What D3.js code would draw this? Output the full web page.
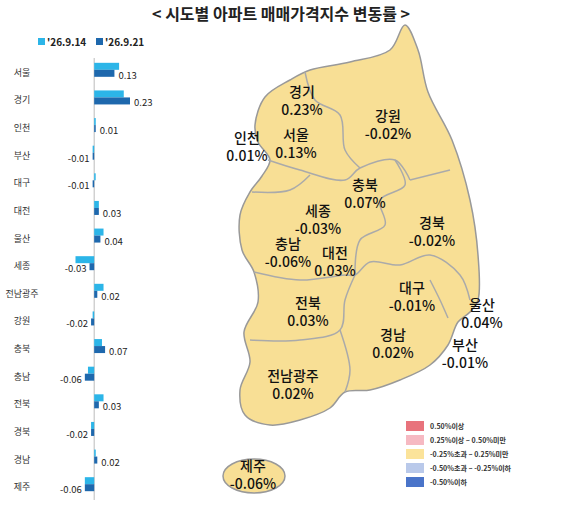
<!DOCTYPE html><html><head><meta charset="utf-8"><script src="https://d3js.org/d3.v7.min.js"></script>
<style>body{margin:0;background:#fff}text{font-family:"Noto Sans CJK KR","Noto Sans",sans-serif}</style></head><body><svg width="562" height="506"></svg>
<script>
const regions=["서울","경기","인천","부산","대구","대전","울산","세종","전남광주","강원","충북","충남","전북","경북","경남","제주"];
const prevWeek=[0.16,0.19,0.01,-0.01,0.0,0.03,0.06,-0.12,0.06,-0.01,0.05,-0.04,0.06,-0.02,0.01,-0.06];
const thisWeek=[0.13,0.23,0.01,-0.01,-0.01,0.03,0.04,-0.03,0.02,-0.02,0.07,-0.06,0.03,-0.02,0.02,-0.06];
const seriesNames=["'26.9.14","'26.9.21"];
const legendLabels=["0.50%이상","0.25%이상 ~ 0.50%미만","-0.25%초과 ~ 0.25%미만","-0.50%초과 ~ -0.25%이하","-0.50%이하"];
const legendColors=["#e8737c","#f6b9c2","#fbe39a","#b9c9ea","#4a74c9"];
const mapLabels=[["경기",302,97],["강원",388,121],["인천",247,143],["서울",296,140],["충북",365,190],["세종",318,216],["경북",432,228],["충남",288,249],["대전",335,258],["대구",412,293],["울산",482,310],["전북",308,308],["경남",393,340],["부산",465,350],["전남광주",293,381],["제주",253,471]];
const outline=[[255,125],[265,97],[290,80],[310,70],[350,62],[390,50],[405,25],[418,50],[428,92],[452,140],[470,200],[478,255],[478,300],[470,312],[458,322],[448,345],[430,365],[400,380],[370,390],[345,392],[330,408],[300,420],[270,425],[245,415],[240,390],[250,362],[244,332],[258,302],[254,272],[242,250],[240,215],[250,192],[262,176],[270,160],[258,142]];
const inner=[[[268,160],[300,170],[345,180],[360,168],[395,160],[410,180]],[[305,72],[315,100],[340,115],[345,150],[360,168]],[[252,192],[290,190],[310,175]],[[395,160],[405,185],[380,200],[385,225],[360,240],[355,275]],[[410,180],[450,170]],[[254,272],[300,280],[345,275],[355,275],[370,262],[400,265],[430,255],[460,275],[470,300]],[[250,340],[300,340],[340,330],[345,300],[355,275]],[[340,330],[350,370],[345,392]],[[430,280],[440,300],[448,318]]];
const svg=d3.select("svg");
svg.append("text").attr("x",281).attr("y",20).attr("text-anchor","middle").attr("font-size",16).attr("font-weight","bold").attr("fill","#222").text("< 시도별 아파트 매매가격지수 변동률 >");
const cols=["#2cb5e8","#1e68ad"];
seriesNames.forEach((s,i)=>{const x=[38,96][i];svg.append("rect").attr("x",x).attr("y",38).attr("width",7).attr("height",7).attr("fill",cols[i]);
svg.append("text").attr("x",x+9).attr("y",45.5).attr("font-size",10).attr("font-weight","bold").attr("fill","#222").text(s);});
const x=d3.scaleLinear().domain([-0.12,0.23]).range([75.5,130]);
const y=d3.scaleBand().domain(regions).range([58,500]);
svg.append("line").attr("x1",x(0)).attr("x2",x(0)).attr("y1",58).attr("y2",500).attr("stroke","#bbb");
regions.forEach((r,i)=>{const cy=y(r)+y.bandwidth()/2;
svg.append("text").attr("x",22).attr("y",cy+4).attr("text-anchor","middle").attr("font-size",9).attr("fill","#333").text(r);
[prevWeek[i],thisWeek[i]].forEach((v,k)=>{svg.append("rect").attr("x",Math.min(x(0),x(v))).attr("y",cy-9+k*7).attr("width",Math.max(Math.abs(x(v)-x(0)),1.5)).attr("height",7).attr("fill",cols[k]);});
const v=thisWeek[i];
svg.append("text").attr("x",v>=0?x(v)+4:Math.min(x(0),x(v))-3).attr("y",cy+7).attr("text-anchor",v>=0?"start":"end").attr("font-size",9.5).attr("fill","#222").text(v.toFixed(2));
});
const line=d3.line().curve(d3.curveCatmullRomClosed);
svg.append("path").attr("d",line(outline)).attr("fill","#f8df95").attr("stroke","#999").attr("stroke-width",1.5);
inner.forEach(p=>svg.append("path").attr("d",d3.line().curve(d3.curveCatmullRom)(p)).attr("fill","none").attr("stroke","#aaa").attr("stroke-width",1.5));
svg.append("ellipse").attr("cx",254).attr("cy",476).attr("rx",31).attr("ry",17).attr("fill","#f8df95").attr("stroke","#999").attr("stroke-width",1.5);
mapLabels.forEach(([n,lx,ly])=>{const v=thisWeek[regions.indexOf(n)];
const t=svg.append("text").attr("text-anchor","middle").attr("font-size",14).attr("font-weight",500).attr("fill","#111");
t.append("tspan").attr("x",lx).attr("y",ly).text(n);
t.append("tspan").attr("x",lx).attr("y",ly+18).text(v.toFixed(2)+"%");});
legendLabels.forEach((l,i)=>{const ly=425+i*14;
svg.append("rect").attr("x",406).attr("y",ly-4).attr("width",18).attr("height",10).attr("fill",legendColors[i]);
svg.append("text").attr("x",430).attr("y",ly+4).attr("font-size",7).attr("font-weight","bold").attr("fill","#333").text(l);});
</script></body></html>
